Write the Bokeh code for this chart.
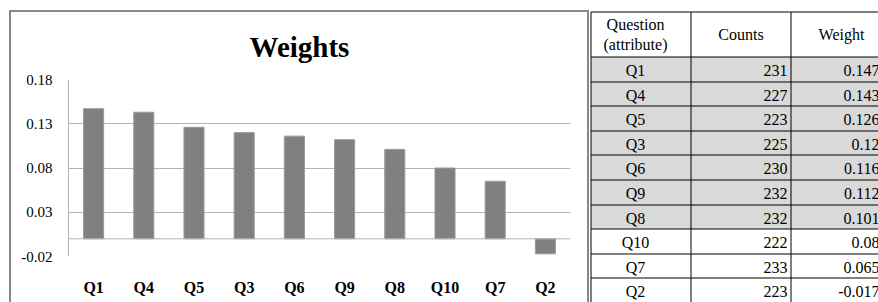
from bokeh.plotting import figure
from bokeh.layouts import row
from bokeh.models import Range1d, FixedTicker, Span
from bokeh.core.properties import value
from bokeh.embed import file_html
from bokeh.resources import INLINE

# ---- data ----
questions = ["Q1", "Q4", "Q5", "Q3", "Q6", "Q9", "Q8", "Q10", "Q7", "Q2"]
counts = [231, 227, 223, 225, 230, 232, 232, 222, 233, 223]
weights = [0.147, 0.143, 0.126, 0.12, 0.116, 0.112, 0.101, 0.08, 0.065, -0.017]
weight_labels = ["0.147", "0.143", "0.126", "0.12", "0.116", "0.112", "0.101", "0.08", "0.065", "-0.017"]
y_ticks = [-0.02, 0.03, 0.08, 0.13, 0.18]
y_tick_labels = ["-0.02", "0.03", "0.08", "0.13", "0.18"]
shaded_rows = 7
header_texts = ["Question\n(attribute)", "Counts", "Weight"]
chart_title = "Weights"

SERIF = "Liberation Serif"
GRID = "#b3b3b3"

# ---- chart ----
p = figure(x_range=questions, y_range=Range1d(y_ticks[0], y_ticks[-1]),
           width=576, height=290, output_backend="svg", toolbar_location=None,
           min_border_left=57, min_border_right=17, min_border_top=67, min_border_bottom=46)
p.frame_align = False
p.margin = (12, 2, 0, 11)
p.outline_line_color = None
p.border_fill_color = "white"
p.background_fill_color = "white"
p.styles = {"outline": "2px solid #888888", "outline-offset": "0px"}

p.title.text = chart_title
p.title.text_font = SERIF
p.title.text_font_size = "29px"
p.title.text_font_style = "bold"
p.title.text_color = "black"
p.title.align = "left"
p.title.vertical_align = "middle"
p.title.offset = 181
p.title.standoff = 32

p.xgrid.grid_line_color = None
p.ygrid.ticker = FixedTicker(ticks=y_ticks)
p.ygrid.grid_line_color = GRID

p.yaxis.ticker = FixedTicker(ticks=y_ticks)
p.yaxis.major_label_overrides = dict(zip(y_ticks, y_tick_labels))
p.yaxis.axis_line_color = GRID
p.yaxis.major_tick_line_color = None
p.yaxis.minor_tick_line_color = None
p.yaxis.major_tick_out = 0
p.yaxis.major_label_standoff = 16
p.yaxis.major_label_text_font = SERIF
p.yaxis.major_label_text_font_size = "15px"
p.yaxis.major_label_text_color = "black"

p.xaxis.axis_line_color = None
p.xaxis.major_tick_line_color = None
p.xaxis.major_tick_out = 0
p.xaxis.major_label_standoff = 22
p.xaxis.major_label_text_font = SERIF
p.xaxis.major_label_text_font_size = "16px"
p.xaxis.major_label_text_font_style = "bold"
p.xaxis.major_label_text_color = "black"

p.add_layout(Span(location=0, dimension="width", line_color=GRID, line_width=1))
p.vbar(x=questions, top=weights, bottom=0, width=0.4,
       fill_color="#808080", line_color="#9a9a9a", line_width=1)

# ---- table ----
TW, TH = 289, 302
t = figure(width=TW, height=TH, x_range=Range1d(0, TW), y_range=Range1d(TH, 0),
           output_backend="svg", toolbar_location=None, min_border=0,
           x_axis_type=None, y_axis_type=None)
t.frame_align = False
t.grid.visible = False
t.outline_line_color = None
t.border_fill_color = "white"
t.background_fill_color = "white"

n = len(questions)
top_y = 11.5
head_bottom = 56.5
row_h = 24.6
bounds = [head_bottom + round(i * row_h) for i in range(n + 1)]
row_top = bounds[:-1]
row_bot = bounds[1:]
row_mid = [(a + b) / 2 + 1 for a, b in zip(row_top, row_bot)]
fills = ["#d9d9d9" if i < shaded_rows else "white" for i in range(n)]
col_x = [1.5, 101.5, 201.5, 300]

t.quad(left=col_x[0], right=col_x[-1], top=row_top, bottom=row_bot,
       fill_color=fills, line_color=None)
hy = [top_y] + bounds
t.segment(x0=[col_x[0]] * len(hy), x1=[col_x[-1]] * len(hy), y0=hy, y1=hy,
          line_color="black", line_width=1)
t.segment(x0=col_x[:3], x1=col_x[:3], y0=[top_y] * 3, y1=[TH + 10] * 3,
          line_color="black", line_width=1)

font = value(SERIF)
t.text(x=[46, 151.5, 252], y=[(top_y + head_bottom) / 2] * 3, text=header_texts,
       text_align="center", text_baseline="middle", text_font=font,
       text_font_size="16px", text_color="black", text_line_height=1.2)
t.text(x=[46] * n, y=row_mid, text=questions, text_align="center",
       text_baseline="middle", text_font=font, text_font_size="16px", text_color="black")
t.text(x=[198] * n, y=row_mid, text=[str(c) for c in counts], text_align="right",
       text_baseline="middle", text_font=font, text_font_size="16px", text_color="black")
t.text(x=[290] * n, y=row_mid, text=weight_labels, text_align="right",
       text_baseline="middle", text_font=font, text_font_size="16px", text_color="black")

layout = row(p, t)
open("out.html", "w").write(file_html(layout, INLINE))
